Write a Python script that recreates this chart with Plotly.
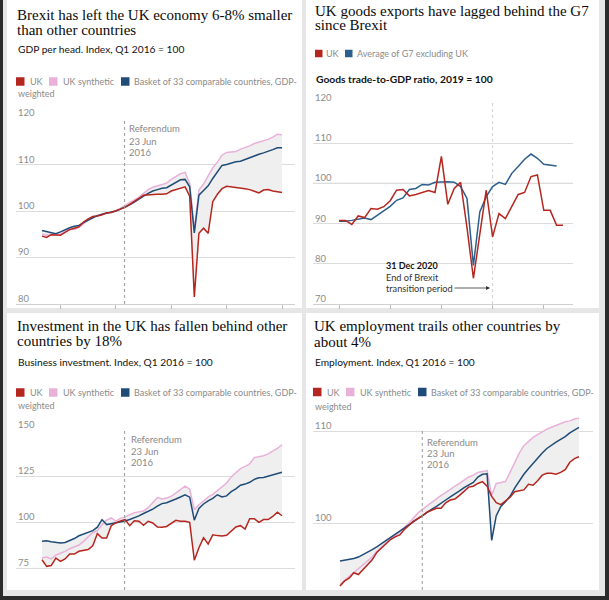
import plotly.graph_objects as go

W, H = 609, 600
def X(p): return p / W
def Y(p): return 1 - p / H

# ---------------- data ----------------
quarter_labels = [f"{2012 + i // 4} Q{i % 4 + 1}" for i in range(53)]          # 2012 Q1 .. 2025 Q1
quarter_pos = [2012 + i / 4 for i in range(53)]
trade_labels = [f"{2015 + i // 4} Q{i % 4 + 1}" for i in range(36)]            # 2015 Q1 .. 2023 Q4
trade_pos = [2015 + i / 4 for i in range(36)]

gdp_uk = [94.6, 94.3, 94.9, 94.8, 94.8, 95.4, 96.0, 96.3, 96.6, 97.6, 98.3, 98.8, 98.9, 99.2, 99.6, 99.7,
          100.0, 100.4, 100.8, 101.4, 102.0, 102.7, 103.4, 103.5, 103.5, 103.6, 103.6, 103.7, 104.3, 104.6,
          105.0, 105.2, 103.2, 81.5, 95.2, 96.3, 95.2, 102.0, 103.6, 104.8, 105.3, 105.2, 105.0, 105.0,
          104.8, 104.6, 104.2, 103.9, 104.5, 104.6, 104.3, 104.1, 104.0]
gdp_synth = [95.0, 94.8, 95.0, 94.9, 95.0, 95.6, 96.0, 96.0, 96.5, 97.4, 98.1, 98.7, 98.9, 99.2, 99.5, 99.8,
             100.0, 100.6, 101.2, 101.7, 102.3, 103.0, 103.8, 104.6, 105.1, 105.4, 105.7, 106.0, 106.8, 107.4,
             108.0, 108.3, 106.0, 96.0, 104.5, 105.8, 107.5, 109.3, 110.5, 112.0, 112.6, 112.7, 112.8, 113.3,
             113.6, 114.0, 114.5, 114.8, 115.0, 115.4, 115.9, 116.5, 116.4]
gdp_basket = [95.8, 95.6, 95.4, 95.1, 95.5, 96.0, 96.4, 96.7, 96.9, 97.5, 98.0, 98.6, 99.0, 99.3, 99.5, 99.8,
              100.0, 100.4, 100.8, 101.3, 101.9, 102.6, 103.2, 103.8, 104.3, 104.6, 104.9, 105.0, 105.6, 106.1,
              106.7, 106.8, 105.2, 95.3, 103.4, 104.4, 105.4, 107.0, 108.5, 109.8, 110.0, 110.3, 110.6, 110.7,
              111.1, 111.5, 111.9, 112.2, 112.5, 112.8, 113.2, 113.6, 113.6]

trade_uk = [90.8, 90.8, 89.8, 91.9, 91.5, 93.75, 93.6, 94.2, 95.7, 98.3, 98.5, 96.9, 97.25, 97.7, 98.2, 97.75,
            106.7, 94.8, 98.75, 100.25, 89.0, 76.4, 88.0, 98.3, 86.7, 92.5, 91.25, 94.2, 97.25, 97.75,
            101.7, 102.1, 93.3, 93.3, 89.6, 89.6]
trade_g7 = [90.6, 90.6, 90.8, 91.1, 91.4, 91.0, 92.1, 93.1, 94.3, 95.8, 96.4, 98.5, 98.75, 99.75, 99.6, 100.3,
            100.4, 100.4, 100.3, 99.2, 96.25, 79.6, 92.9, 96.7, 99.2, 100.25, 99.75, 102.5, 104.2, 106.0,
            107.3, 106.25, 104.75, 104.6, 104.3, None]

inv_uk = [79.5, 75.9, 76.3, 80.4, 78.6, 79.9, 82.6, 82.6, 84.1, 84.4, 85.0, 87.1, 93.7, 91.3, 91.3, 98.0,
          99.5, 100.5, 101.3, 98.0, 100.7, 100.4, 98.2, 100.4, 99.5, 97.3, 97.1, 97.6, 99.1, 100.9,
          100.4, 100.4, 99.8, 79.2, 86.0, 91.5, 88.0, 93.0, 92.6, 92.4, 92.8, 94.9, 97.3, 98.0,
          96.2, 101.8, 101.8, 99.8, 101.3, 101.3, 103.0, 105.3, 103.4]
inv_synth = [80.4, 81.0, 79.9, 82.0, 83.0, 84.0, 85.5, 86.5, 87.5, 89.5, 92.0, 94.3, 95.3, 98.5, 101.0, 102.2,
             100.5, 102.0, 102.8, 104.0, 105.0, 105.5, 106.0, 107.8, 110.5, 113.3, 112.5, 113.0, 114.0, 115.8,
             117.5, 119.5, 117.8, 106.7, 109.4, 111.5, 113.5, 115.0, 117.0, 119.0, 121.2, 124.5, 127.0, 129.0,
             130.2, 131.5, 135.0, 135.5, 136.0, 137.0, 138.5, 140.0, 142.0]
inv_basket = [89.5, 89.8, 89.3, 88.8, 88.6, 88.9, 89.8, 91.0, 92.5, 93.3, 94.3, 95.3, 97.2, 101.3, 98.6, 99.0,
              99.6, 100.2, 100.6, 101.4, 102.3, 103.3, 104.6, 105.6, 107.0, 108.6, 110.0, 110.5, 111.3, 112.5,
              113.6, 114.8, 113.5, 101.0, 107.4, 109.8, 111.5, 112.8, 114.8, 113.6, 114.2, 116.5, 118.0, 120.0,
              120.6, 121.6, 123.2, 124.0, 124.2, 124.8, 125.6, 126.4, 127.0]

emp_uk = [93.15, 93.7, 94.0, 94.6, 94.4, 94.9, 95.4, 96.0, 96.8, 97.3, 97.8, 98.2, 98.5, 98.7, 99.3, 99.8,
          100.2, 100.5, 100.8, 101.2, 101.4, 101.6, 101.6, 102.2, 102.5, 102.6, 103.0, 103.4, 103.9, 104.0,
          104.3, 104.5, 104.0, 102.9, 102.2, 102.0, 102.4, 102.8, 103.4, 103.5, 103.6, 104.2, 104.1, 104.6,
          105.2, 105.4, 105.4, 105.3, 105.5, 105.8, 106.6, 107.0, 107.2]
emp_synth = [93.3, 93.8, 94.2, 94.6, 95.0, 95.4, 95.8, 96.3, 96.9, 97.4, 97.9, 98.3, 98.6, 99.0, 99.5, 100.0,
             100.6, 101.1, 101.5, 101.9, 102.3, 102.6, 103.0, 103.3, 103.7, 104.0, 104.3, 104.7, 105.0, 105.2,
             105.5, 105.6, 105.7, 103.0, 104.3, 104.4, 104.5, 105.5, 106.6, 107.6, 108.4, 108.9, 109.3, 109.6,
             109.9, 110.2, 110.4, 110.6, 110.8, 111.0, 111.1, 111.3, 111.4]
emp_basket = [95.87, 95.95, 96.05, 96.15, 96.3, 96.55, 96.8, 97.1, 97.4, 97.75, 98.1, 98.4, 98.75, 99.1, 99.45, 99.8,
              100.1, 100.45, 100.8, 101.15, 101.5, 101.8, 102.2, 102.5, 102.85, 103.15, 103.5, 103.85, 104.1, 104.4,
              105.0, 105.3, 105.35, 98.1, 100.8, 101.8, 102.3, 102.9, 103.8, 104.6, 105.3, 105.9, 106.5, 107.1,
              107.6, 108.1, 108.5, 108.8, 109.1, 109.4, 109.8, 110.1, 110.4]

referendum = 2016.475
brexit_end = 2021.0
gdp_ticks = [80, 90, 100, 110, 120]
trade_ticks = [70, 80, 90, 100, 110, 120]
inv_ticks = [75, 100, 125, 150]
emp_ticks = [100, 110]

# ---------------- style ----------------
RED = "#b5261e"
PINK = "#e9b1da"
BLUE = "#1f4b77"
G7BLUE = "#2b5f8e"
FILL = "#efefef"
GRID = "#dcdcdc"
GREYTXT = "#8a8a8a"
SERIF = "Liberation Serif"
SANS = "Lato"
TITLE_C = "#0a0a0a"

fig = go.Figure()

def lin_range(d0, d1, p0, v0, p1, v1):
    s = (v1 - v0) / (p1 - p0)
    return [v0 + (d0 - p0) * s, v0 + (d1 - p0) * s]

panels = {
    1: dict(xd=(16, 295), xr=lin_range(16, 295, 42, 2012, 282, 2025), yd=(118, 304), yr=lin_range(304, 118, 304, 80, 118, 120)),
    2: dict(xd=(313, 573), xr=lin_range(313, 573, 339, 2015, 563, 2023.75), yd=(103, 304), yr=lin_range(304, 103, 304, 70, 103, 120)),
    3: dict(xd=(16, 295), xr=lin_range(16, 295, 42, 2012, 282, 2025), yd=(430, 590), yr=lin_range(590, 430, 568, 75, 430, 150)),
    4: dict(xd=(313, 593), xr=lin_range(313, 593, 340, 2012, 579, 2025), yd=(412, 590), yr=lin_range(590, 412, 523, 100, 431, 110)),
}
ticks = {1: gdp_ticks, 2: trade_ticks, 3: inv_ticks, 4: emp_ticks}

layout_axes = {}
for k, p in panels.items():
    xn = "xaxis" if k == 1 else f"xaxis{k}"
    yn = "yaxis" if k == 1 else f"yaxis{k}"
    has_axis = k in (1, 2)
    layout_axes[xn] = dict(domain=[X(p["xd"][0]), X(p["xd"][1])], range=p["xr"], showgrid=False, zeroline=False,
                           showticklabels=False, showline=has_axis, linecolor="#cfcfcf", linewidth=1,
                           ticks="outside" if has_axis else "", ticklen=4, tickcolor="#bdbdbd",
                           tickvals=[2013, 2016, 2019, 2022, 2025] if k == 1 else [2015, 2017, 2019, 2021, 2023],
                           anchor="y" if k == 1 else f"y{k}", fixedrange=True)
    layout_axes[yn] = dict(domain=[Y(p["yd"][1]), Y(p["yd"][0])], range=p["yr"], showgrid=True, gridcolor=GRID,
                           gridwidth=1, zeroline=False, showticklabels=False, tickvals=ticks[k],
                           anchor="x" if k == 1 else f"x{k}", fixedrange=True)

def add_panel(k, xs, uk, synth, basket):
    xa = "x" if k == 1 else f"x{k}"
    ya = "y" if k == 1 else f"y{k}"
    lower = [min(a, b, c) for a, b, c in zip(uk, synth, basket)]
    upper = [max(a, b, c) for a, b, c in zip(uk, synth, basket)]
    fig.add_trace(go.Scatter(x=xs, y=lower, mode="lines", line=dict(width=0), hoverinfo="skip", xaxis=xa, yaxis=ya))
    fig.add_trace(go.Scatter(x=xs, y=upper, mode="lines", line=dict(width=0), fill="tonexty", fillcolor=FILL,
                             hoverinfo="skip", xaxis=xa, yaxis=ya))
    fig.add_trace(go.Scatter(x=xs, y=synth, mode="lines", line=dict(color=PINK, width=1.5), name="UK synthetic", xaxis=xa, yaxis=ya))
    fig.add_trace(go.Scatter(x=xs, y=basket, mode="lines", line=dict(color=BLUE, width=1.5), name="Basket", xaxis=xa, yaxis=ya))
    fig.add_trace(go.Scatter(x=xs, y=uk, mode="lines", line=dict(color=RED, width=1.5), name="UK", xaxis=xa, yaxis=ya))

add_panel(1, quarter_pos, gdp_uk, gdp_synth, gdp_basket)
add_panel(3, quarter_pos, inv_uk, inv_synth, inv_basket)
add_panel(4, quarter_pos, emp_uk, emp_synth, emp_basket)

fig.add_trace(go.Scatter(x=trade_pos, y=trade_g7, mode="lines", line=dict(color=G7BLUE, width=1.5), name="G7", xaxis="x2", yaxis="y2"))
fig.add_trace(go.Scatter(x=trade_pos, y=trade_uk, mode="lines", line=dict(color=RED, width=1.5), name="UK", xaxis="x2", yaxis="y2"))

shapes = []
# frame, gaps and white cards
shapes.append(dict(type="rect", xref="paper", yref="paper", x0=X(3), x1=X(605), y0=Y(596), y1=Y(0),
                   fillcolor="#e6e6e6", line=dict(width=0), layer="below"))
for (x0, x1, y0, y1) in [(7, 302, 0, 308), (306, 599, 0, 308), (7, 302, 313, 590), (306, 599, 313, 590)]:
    shapes.append(dict(type="rect", xref="paper", yref="paper", x0=X(x0), x1=X(x1), y0=Y(y1), y1=Y(y0),
                       fillcolor="#ffffff", line=dict(width=0), layer="below"))
# referendum lines
ref_tops = {1: 120, 3: 150, 4: 110}
for k in (1, 3, 4):
    xa = "x" if k == 1 else f"x{k}"
    ya = "y" if k == 1 else f"y{k}"
    shapes.append(dict(type="line", xref=xa, yref=ya, x0=referendum, x1=referendum,
                       y0=panels[k]["yr"][0], y1=ref_tops[k],
                       line=dict(color="#9a9a9a", width=1, dash="dot"), layer="above"))
shapes.append(dict(type="line", xref="x2", yref="y2 domain", x0=brexit_end, x1=brexit_end, y0=0, y1=1,
                   line=dict(color="#d0d0d0", width=1, dash="dot"), layer="below"))
# 100 baseline in trade panel
shapes.append(dict(type="line", xref="x2 domain", yref="y2", x0=0, x1=1, y0=100, y1=100,
                   line=dict(color="#9a9a9a", width=1), layer="below"))

annotations = []
def text(x, y, s, size=10, color=GREYTXT, family=SANS, anchor="left", weight="normal"):
    annotations.append(dict(x=X(x), y=Y(y), xref="paper", yref="paper", text=s, showarrow=False,
                            xanchor=anchor, yanchor="middle",
                            font=dict(size=size, color=color, family=family, weight=weight)))

def square(x, y, color, s=8.5):
    shapes.append(dict(type="rect", xref="paper", yref="paper", x0=X(x), x1=X(x + s), y0=Y(y + s / 2), y1=Y(y - s / 2),
                       fillcolor=color, line=dict(width=0)))

# titles
TS = 15
SUB = 10.2
text(15, 15, "Brexit has left the UK economy 6-8% smaller", TS, TITLE_C, SERIF)
text(15, 30, "than other countries", TS, TITLE_C, SERIF)
text(16, 49, "GDP per head. Index, Q1 2016 = 100", SUB, "#121212")
text(313, 11, "UK goods exports have lagged behind the G7", TS, TITLE_C, SERIF)
text(313, 25.5, "since Brexit", TS, TITLE_C, SERIF)
text(314, 79, "Goods trade-to-GDP ratio, 2019 = 100", 10.3, "#121212", weight="bold")
text(15, 326, "Investment in the UK has fallen behind other", TS, TITLE_C, SERIF)
text(15, 341, "countries by 18%", TS, TITLE_C, SERIF)
text(16, 361.5, "Business investment. Index, Q1 2016 = 100", SUB, "#121212")
text(312, 326, "UK employment trails other countries by", TS, TITLE_C, SERIF)
text(312, 342, "about 4%", TS, TITLE_C, SERIF)
text(313, 361.5, "Employment. Index, Q1 2016 = 100", SUB, "#121212")

# legends
LS = 9
def legend3(x0, y, yw):
    square(x0, y, RED); text(x0 + 11.5, y, "UK", LS)
    square(x0 + 33, y, PINK); text(x0 + 44.5, y, "UK synthetic", LS)
    square(x0 + 105, y, BLUE); text(x0 + 116, y, "Basket of 33 comparable countries, GDP-", LS)
    text(x0, yw, "weighted", LS)
legend3(16, 81.5, 93.5)
legend3(16, 392.5, 405)
legend3(313, 392, 406)
square(315, 53.5, RED, 7.5); text(324, 53.5, "UK", LS)
square(345, 53.5, G7BLUE, 7.5); text(355, 53.5, "Average of G7 excluding UK", LS)

# y tick labels
def ylabels(x, vals, k):
    p = panels[k]
    (pt, pb), (vb, vt) = p["yd"], p["yr"]
    for v in vals:
        ypix = pb - (v - vb) / (vt - vb) * (pb - pt)
        text(x, ypix - 5.5, str(v), 9.5, "#8c8c8c")
ylabels(16, gdp_ticks, 1)
ylabels(313, trade_ticks, 2)
ylabels(16, inv_ticks, 3)
ylabels(313, emp_ticks, 4)

# referendum notes
for (x, ys) in [(127, (129, 141, 152)), (129, (439, 451, 462)), (425, (442, 453, 464))]:
    for s, yy in zip(["Referendum", "23 Jun", "2016"], ys):
        text(x, yy, s, 9.5, "#8a8a8a")

# Brexit transition annotation
text(384, 265, "31 Dec 2020", 9, "#121212", weight="bold")
text(384, 277, "End of Brexit", 9.2, "#333333")
text(384, 288, "transition period", 9.2, "#333333")
annotations.append(dict(x=X(490), y=Y(288), xref="paper", yref="paper", ax=-37, ay=0,
                        axref="pixel", ayref="pixel", text="", showarrow=True, arrowhead=2, arrowsize=1,
                        arrowwidth=0.8, arrowcolor="#333333"))

fig.update_layout(width=W, height=H, margin=dict(l=0, r=0, t=0, b=0), paper_bgcolor="#2b2b2b",
                  plot_bgcolor="rgba(0,0,0,0)", showlegend=False, shapes=shapes, annotations=annotations,
                  **layout_axes)
fig.write_html("out.html")
